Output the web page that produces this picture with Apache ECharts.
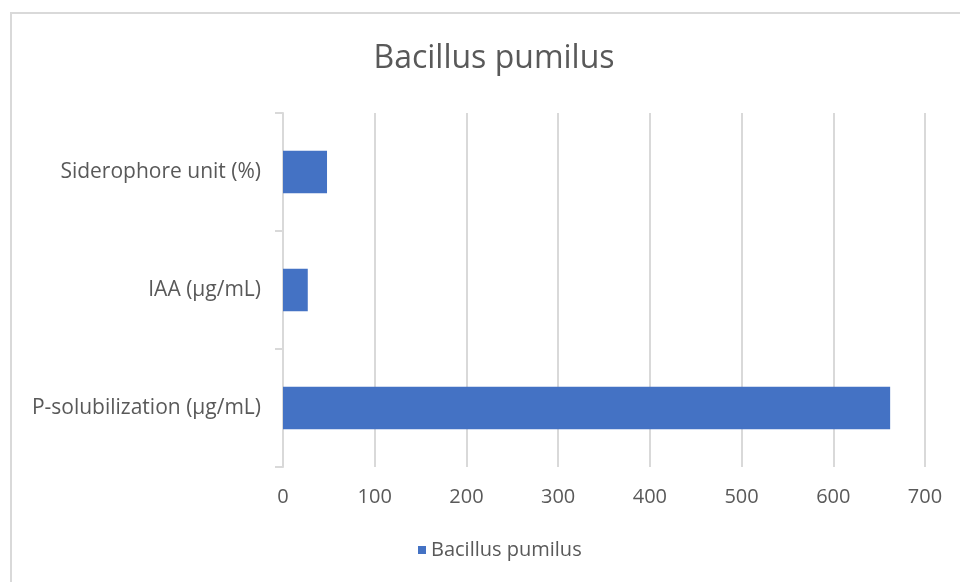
<!DOCTYPE html>
<html lang="en">
<head>
    <meta charset="UTF-8">
    <title>Bacillus pumilus</title>
    <style>
        html, body { margin: 0; padding: 0; background: #fff; }
    </style>
</head>
<body>
<div id="main" style="width: 960px;height:582px;"></div>
<script src="https://cdn.jsdelivr.net/npm/echarts@6/dist/echarts.min.js"></script>
<script>
    var categories = ['Siderophore unit (%)', 'IAA (μg/mL)', 'P-solubilization (μg/mL)'];
    var values = [48, 27, 662];
    var seriesName = 'Bacillus pumilus';
    var xTicks = { min: 0, max: 700, interval: 100 };

    var font = 'Open Sans, Noto Sans, sans-serif';
    var myChart = echarts.init(document.getElementById('main'));

    var option = {
        backgroundColor: '#fff',
        animation: false,
        title: {
            text: 'Bacillus pumilus',
            left: 489,
            top: 38,
            textAlign: 'center',
            textStyle: { color: '#595959', fontSize: 32, fontWeight: 'normal', fontFamily: font }
        },
        graphic: [{
            type: 'rect',
            shape: { x: 11, y: 13, width: 1000, height: 1000 },
            style: { fill: 'none', stroke: '#d9d9d9', lineWidth: 2 },
            silent: true
        }],
        legend: {
            bottom: 17,
            left: 413,
            data: [seriesName],
            icon: 'rect',
            itemWidth: 8,
            itemHeight: 8,
            itemGap: 6,
            textStyle: { color: '#595959', fontSize: 20, fontFamily: font }
        },
        grid: { left: 283, right: 35, top: 113, bottom: 115 },
        xAxis: {
            type: 'value',
            min: xTicks.min,
            max: xTicks.max,
            interval: xTicks.interval,
            axisLine: { show: false },
            axisTick: { show: false },
            axisLabel: { color: '#595959', fontSize: 20, margin: 20, fontFamily: font },
            splitLine: { lineStyle: { color: '#d9d9d9', width: 2 } }
        },
        yAxis: {
            type: 'category',
            inverse: true,
            data: categories,
            axisLine: { lineStyle: { color: '#d9d9d9', width: 2 } },
            axisTick: { show: true, length: 8, lineStyle: { color: '#d9d9d9', width: 2 } },
            axisLabel: { color: '#595959', fontSize: 21, margin: 22, fontFamily: font }
        },
        series: [{
            name: seriesName,
            type: 'bar',
            data: values,
            barWidth: '36%',
            itemStyle: { color: '#4472c4' }
        }]
    };

    myChart.setOption(option);
</script>
</body>
</html>
